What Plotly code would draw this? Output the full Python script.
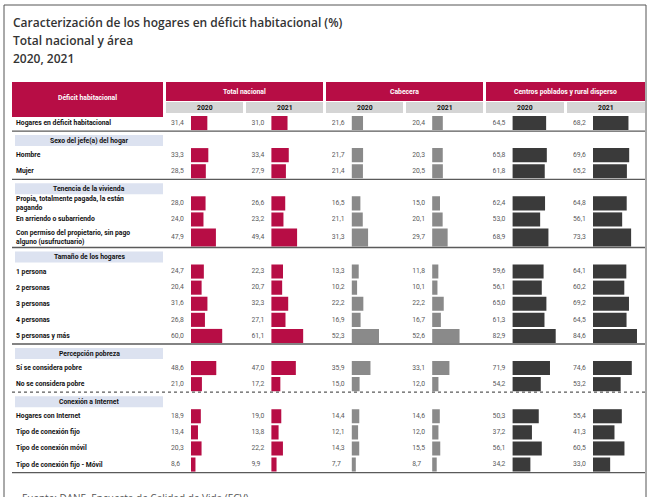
import plotly.graph_objects as go

W, H = 648, 497

# --- data -------------------------------------------------------------
sections = ["", "Sexo del jefe(a) del hogar", "Tenencia de la vivienda",
            "Tamaño de los hogares", "Percepción pobreza", "Conexión a Internet"]

row_labels = [
    "Hogares en déficit habitacional",
    "Hombre", "Mujer",
    "Propia, totalmente pagada, la están<br>pagando",
    "En arriendo o subarriendo",
    "Con permiso del propietario, sin pago<br>alguno (usufructuario)",
    "1 persona", "2 personas", "3 personas", "4 personas", "5 personas y más",
    "Sí se considera pobre", "No se considera pobre",
    "Hogares con Internet", "Tipo de conexión fijo", "Tipo de conexión móvil",
    "Tipo de conexión fijo - Móvil",
]
row_section = [0, 1, 1, 2, 2, 2, 3, 3, 3, 3, 3, 4, 4, 5, 5, 5, 5]

tn_2020 = [31.4, 33.3, 28.5, 28.0, 24.0, 47.9, 24.7, 20.4, 31.6, 26.8, 60.0, 48.6, 21.0, 18.9, 13.4, 20.3, 8.6]
tn_2021 = [31.0, 33.4, 27.9, 26.6, 23.2, 49.4, 22.3, 20.7, 32.3, 27.1, 61.1, 47.0, 17.2, 19.0, 13.8, 22.2, 9.9]
cab_2020 = [21.6, 21.7, 21.4, 16.5, 21.1, 31.3, 13.3, 10.2, 22.2, 16.9, 52.3, 35.9, 15.0, 14.4, 12.1, 14.3, 7.7]
cab_2021 = [20.4, 20.3, 20.5, 15.0, 20.1, 29.7, 11.8, 10.1, 22.2, 16.7, 52.6, 33.1, 12.0, 14.6, 12.0, 15.5, 8.7]
cp_2020 = [64.5, 65.8, 61.8, 62.4, 53.0, 68.9, 59.6, 56.1, 65.0, 61.3, 82.9, 71.9, 54.2, 50.3, 37.2, 56.1, 34.2]
cp_2021 = [68.2, 69.6, 65.2, 64.8, 56.1, 73.3, 64.1, 60.2, 69.2, 64.5, 84.6, 74.6, 53.2, 55.4, 41.3, 60.5, 33.0]

groups = ["Total nacional", "Cabecera", "Centros poblados y rural disperso"]
years = ["2020", "2021"]
columns = [tn_2020, tn_2021, cab_2020, cab_2021, cp_2020, cp_2021]

# --- styling ----------------------------------------------------------
CRIMSON = "#b70d45"
BAR_COLORS = [CRIMSON, CRIMSON, "#8a8a8a", "#8a8a8a", "#3a3a3a", "#3a3a3a"]
NARROW = "Roboto, Lato, sans-serif"
TITLE_FONT = "Open Sans, sans-serif"
SMALL = 6.8

PITCH = 16.1
TALL = 20   # only the "Con permiso..." row is taller
PX_PER_UNIT = 0.52
TEXT_GAP = 20
bar_start = [191, 271.4, 351.8, 432.2, 512.6, 593]


def px(x):
    return x / W


# row layout (y axis is in pixels, top = 0)
centers, heights, header_boxes, seps = [], [], [], []
y = 115
for s in range(len(sections)):
    if s > 0:
        header_boxes.append((y + 4, y + 15))
        y += 16
    for i, lab in enumerate(row_labels):
        if row_section[i] != s:
            continue
        h = TALL if lab.startswith("Con permiso") else PITCH
        centers.append(y + h / 2)
        heights.append(h - 2)
        y += h
    seps.append(y)

fig = go.Figure()

for k, vals in enumerate(columns):
    ax = "x" if k == 0 else f"x{k + 1}"
    fig.add_trace(go.Bar(
        x=vals, y=centers, width=heights, orientation="h", base=0,
        marker=dict(color=BAR_COLORS[k], line=dict(width=0)),
        xaxis=ax, yaxis="y", hoverinfo="skip", showlegend=False,
    ))
    fig.add_trace(go.Scatter(
        x=[-TEXT_GAP / PX_PER_UNIT] * len(vals), y=centers, mode="text",
        text=[f"{v:.1f}".replace(".", ",") for v in vals],
        textposition="middle right",
        textfont=dict(family=NARROW, size=SMALL, color="#5a5a5a"),
        xaxis=ax, yaxis="y", hoverinfo="skip", showlegend=False,
    ))

layout_axes = {}
for k in range(6):
    name = "xaxis" if k == 0 else f"xaxis{k + 1}"
    layout_axes[name] = dict(
        domain=[px(bar_start[k] - TEXT_GAP), px(bar_start[k] + 100 * PX_PER_UNIT)],
        range=[-TEXT_GAP / PX_PER_UNIT, 100], anchor="y",
        visible=False, fixedrange=True,
    )

shapes = []
annotations = []


def label(text, x, y, color="#111111", size=SMALL, anchor="center", family=NARROW, **kw):
    annotations.append(dict(text=text, xref="paper", yref="y", x=px(x), y=y,
                            xanchor=anchor, yanchor=kw.pop("yanchor", "middle"),
                            align=kw.pop("align", anchor if anchor != "center" else "center"),
                            showarrow=False,
                            font=dict(family=family, size=size, color=color, **kw)))


def box(x0, x1, y0, y1, color):
    shapes.append(dict(type="rect", xref="paper", yref="y", x0=px(x0), x1=px(x1), y0=y0, y1=y1,
                       fillcolor=color, line=dict(width=0), layer="below"))


# frame
shapes.append(dict(type="rect", xref="paper", yref="y", x0=px(4), x1=px(646), y0=5, y1=530,
                   line=dict(color="#555555", width=1)))

# titles
for txt, yy in [("Caracterización de los hogares en déficit habitacional (%)", 22),
                ("Total nacional y área", 40), ("2020, 2021", 58)]:
    label(txt, 11, yy, color="#333333", size=12, anchor="left", family=TITLE_FONT, weight=600)

# header: row-label column
box(12, 163, 82, 117, CRIMSON)
label("<b>Déficit habitacional</b>", 87.5, 98, color="white")

group_x = [(166, 323), (326, 483), (486, 645)]
for g, (a, b) in enumerate(group_x):
    box(a, b, 82, 101, CRIMSON)
    label(f"<b>{groups[g]}</b>", (a + b) / 2, 91.5, color="white")
    mid = (a + b) / 2
    for j, (c0, c1) in enumerate([(a, mid - 1.5), (mid + 1.5, b)]):
        box(c0, c1, 102, 113, "#d5d5d5")
        label(f"<b>{years[j]}</b>", (c0 + c1) / 2, 107.5)

# section header boxes
for s, (t0, t1) in enumerate(header_boxes, start=1):
    box(15, 163, t0, t1, "#dce2f0")
    label(f"<b>{sections[s]}</b>", 89, (t0 + t1) / 2)

# separators
for s, yy in enumerate(seps):
    shapes.append(dict(type="line", xref="paper", yref="y", x0=px(12), x1=px(645), y0=yy, y1=yy,
                       line=dict(color="#5a5a5a", width=1.3, dash="dot" if s == 4 else "solid")))

# row labels
for lab, c in zip(row_labels, centers):
    label(f"<b>{lab}</b>", 14, c, anchor="left")

# source (cut by the bottom edge, as in the original)
label("Fuente: DANE, Encuesta de Calidad de Vida (ECV).", 20, 489, color="#555555",
      size=10, anchor="left", family=TITLE_FONT, yanchor="top")

fig.update_layout(
    width=W, height=H,
    margin=dict(l=0, r=0, t=0, b=0),
    paper_bgcolor="white", plot_bgcolor="white",
    barmode="overlay", showlegend=False,
    yaxis=dict(range=[H, 0], domain=[0, 1], visible=False, fixedrange=True),
    shapes=shapes, annotations=annotations,
    **layout_axes,
)

# the page body has a default 8px margin; drop it so the figure sits at 0,0
fig.write_html("out.html", config={"displayModeBar": False},
               post_script="document.body.style.margin='0';")
